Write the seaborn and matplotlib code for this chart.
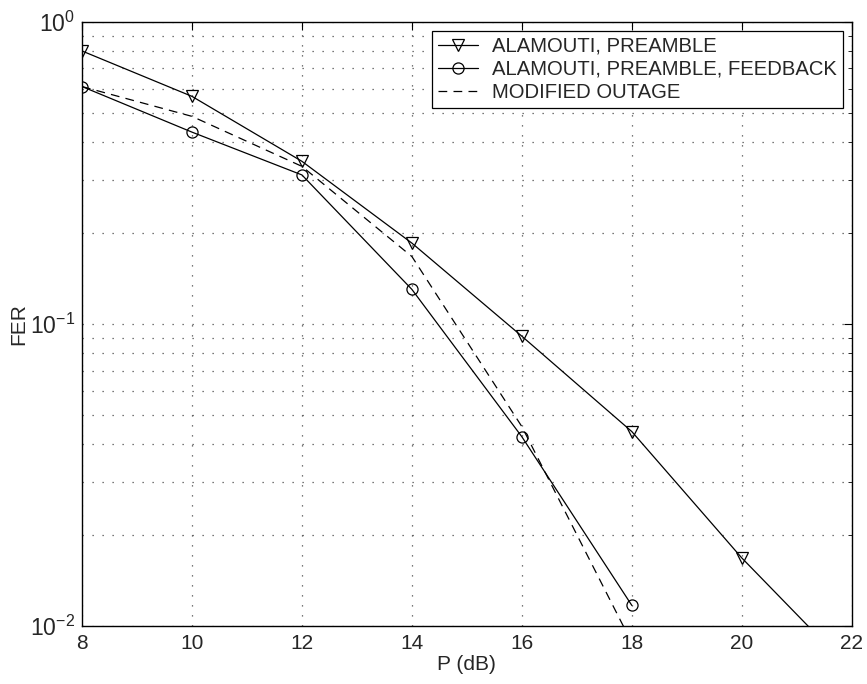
import pandas as pd
import seaborn as sns
import numpy as np
import matplotlib.pyplot as plt
from matplotlib.ticker import LogLocator, NullFormatter

# values
p_db = [8, 10, 12, 14, 16, 18, 20, 22]
fer_preamble = [0.80, 0.566, 0.345, 0.185, 0.091, 0.044, 0.0168, 0.0071]

p_db_fb = [8, 10, 12, 14, 16, 18]
fer_feedback = [0.61, 0.431, 0.311, 0.130, 0.0423, 0.0117]

p_db_out = [8, 10, 12, 14, 16, 18]
fer_outage = [0.61, 0.486, 0.332, 0.167, 0.0457, 0.0088]

labels = ["ALAMOUTI, PREAMBLE", "ALAMOUTI, PREAMBLE, FEEDBACK", "MODIFIED OUTAGE"]

sns.set_style("white")
plt.rcParams['font.family'] = ['Liberation Sans', 'DejaVu Sans']
plt.rcParams['mathtext.fontset'] = 'custom'
plt.rcParams['mathtext.rm'] = 'Liberation Sans'
plt.rcParams['mathtext.it'] = 'Liberation Sans'
plt.rcParams['font.size'] = 11

fig = plt.figure(figsize=(8.67, 6.84), dpi=100)
ax = fig.add_axes([0.0946, 0.0848, 0.8878, 0.8835])

# Plot the three curves
sns.lineplot(x=p_db, y=fer_preamble, ax=ax, color='k', lw=0.9, marker='v',
             markersize=9, markerfacecolor='none', markeredgecolor='k',
             markeredgewidth=0.9, label=labels[0])
sns.lineplot(x=p_db_fb, y=fer_feedback, ax=ax, color='k', lw=0.9, marker='o',
             markersize=8, markerfacecolor='none', markeredgecolor='k',
             markeredgewidth=0.9, label=labels[1])
sns.lineplot(x=p_db_out, y=fer_outage, ax=ax, color='k', lw=0.9,
             linestyle=(0, (7, 5)), label=labels[2])

ax.set_yscale('log')
ax.set_xlim(8, 22)
ax.set_ylim(1e-2, 1)
ax.set_xticks(range(8, 23, 2))
ax.yaxis.set_major_locator(LogLocator(base=10, numticks=5))
ax.yaxis.set_minor_locator(LogLocator(base=10, subs=np.arange(2, 10), numticks=20))
ax.yaxis.set_minor_formatter(NullFormatter())

grid_style = dict(color='0.3', linestyle=(0, (1, 7)), lw=0.9)
ax.grid(True, which='major', axis='x', **grid_style)
ax.grid(True, which='both', axis='y', **grid_style)

ax.tick_params(which='both', direction='in', top=True, right=True, labelsize=15,
               color='k', pad=6)
ax.tick_params(axis='y', labelsize=16.5, pad=5)
ax.tick_params(which='major', length=6, width=0.8)
ax.tick_params(which='minor', length=3, width=0.6)
for s in ax.spines.values():
    s.set_color('k')
    s.set_linewidth(1.0)

ax.set_xlabel('P (dB)', fontsize=15, labelpad=1)
ax.set_ylabel('FER', fontsize=15, labelpad=1)

leg = ax.legend(loc='upper right', fontsize=14.6, frameon=True, fancybox=False,
                edgecolor='k', framealpha=1, borderpad=0.3, labelspacing=0.2,
                handlelength=2.0, handletextpad=0.65, borderaxespad=0.45)
leg.get_frame().set_linewidth(0.9)

plt.savefig('out.png', dpi=100)
